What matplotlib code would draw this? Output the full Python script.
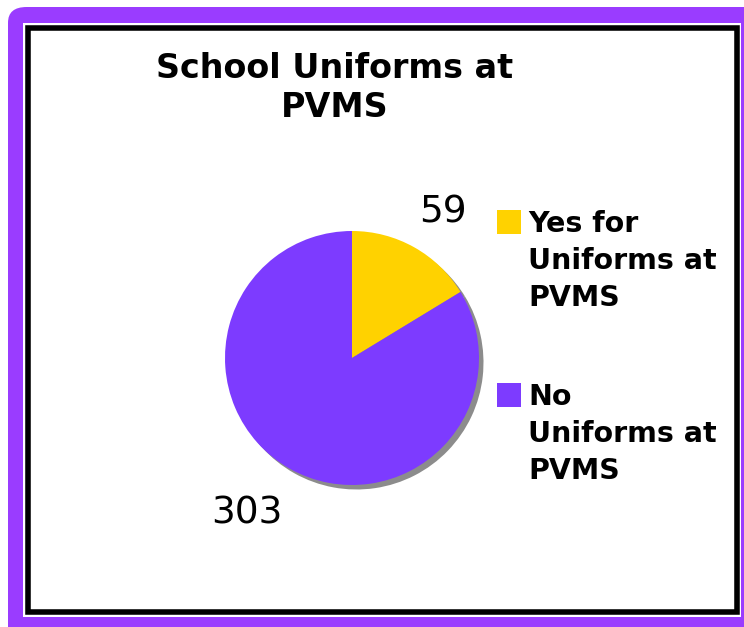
import matplotlib
matplotlib.use("Agg")
import matplotlib.pyplot as plt
from matplotlib.patches import FancyBboxPatch, Rectangle

labels = ["Yes for\nUniforms at\nPVMS", "No\nUniforms at\nPVMS"]
values = [59, 303]
colors = ["#FFD200", "#7D3BFF"]
title = "School Uniforms at\nPVMS"

W, H = 744, 627
fig = plt.figure(figsize=(W / 100, H / 100), dpi=100)
fig.patch.set_facecolor("white")

def fx(x):
    return x / W

def fy(y):
    return 1 - y / H

# purple frame
frame = FancyBboxPatch((fx(8), fy(660)), fx(800), 653 / H,
                       boxstyle="round,pad=0,rounding_size=0.025",
                       transform=fig.transFigure, facecolor="#9A3CFF",
                       edgecolor="none", zorder=0)
fig.patches.append(frame)
fig.patches.append(Rectangle((fx(23), fy(617)), fx(718), 594 / H,
                             transform=fig.transFigure, facecolor="white",
                             edgecolor="none", zorder=1))
fig.patches.append(Rectangle((fx(27.5), fy(611.5)), fx(709.5), 583.5 / H,
                             transform=fig.transFigure, facecolor="none",
                             edgecolor="black", linewidth=4, zorder=2))

# pie
cx, cy, r = 352, 358, 127
ax = fig.add_axes([fx(cx - r - 3), fy(cy + r + 6), fx(2 * r + 9), (2 * r + 9) / H])
ax.set_zorder(5)
ax.patch.set_alpha(0)
ax.axis("off")
sh = 4.5 / r
ax.pie(values, colors=["#8C8C8C"] * 2, startangle=90, counterclock=False,
       radius=1, center=(sh, -sh), frame=False)
ax.pie(values, colors=colors, startangle=90, counterclock=False,
       radius=1, center=(0, 0), frame=False)
ax.set_aspect("equal")
ax.set_xlim(-1 - 3 / r, 1 + 6 / r)
ax.set_ylim(-1 - 6 / r, 1 + 3 / r)

fig.text(fx(443), fy(212), str(values[0]), fontsize=27, ha="center",
         va="center", color="black", family="DejaVu Sans", zorder=6)
fig.text(fx(247), fy(513), str(values[1]), fontsize=27, ha="center",
         va="center", color="black", family="DejaVu Sans", zorder=6)

fig.text(fx(335), fy(88), title, fontsize=24, fontweight="bold",
         ha="center", va="center", linespacing=1.25, family="DejaVu Sans",
         zorder=6)

# legend
leg_y = [210, 383]
for lab, col, y in zip(labels, colors, leg_y):
    fig.patches.append(Rectangle((fx(497), fy(y + 24)), fx(24), 24 / H,
                                 transform=fig.transFigure, facecolor=col,
                                 edgecolor="none", zorder=3))
    fig.text(fx(528), fy(y), lab, fontsize=20.5, fontweight="bold",
             ha="left", va="top", linespacing=1.4, family="DejaVu Sans",
             zorder=6)

fig.savefig("out.png", dpi=100, facecolor="white")
